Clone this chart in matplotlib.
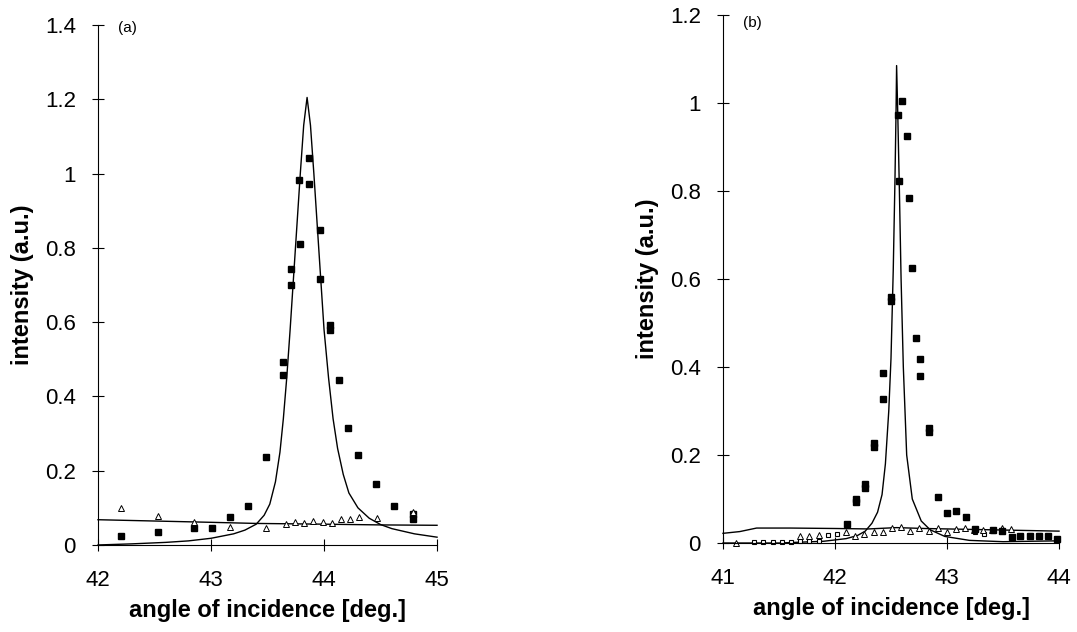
import matplotlib.pyplot as plt

plt.rcParams['font.family'] = ['Liberation Sans', 'DejaVu Sans']

# ---- panel (a) data ----
a_sq_x = [42.20, 42.53, 42.85, 43.01, 43.17, 43.33, 43.49, 43.64, 43.64, 43.71, 43.71,
          43.79, 43.78, 43.87, 43.87, 43.96, 43.96, 44.05, 44.05, 44.13, 44.21, 44.30,
          44.46, 44.62, 44.79, 44.79]
a_sq_y = [0.024, 0.034, 0.045, 0.047, 0.074, 0.106, 0.238, 0.492, 0.458, 0.742, 0.700,
          0.810, 0.982, 1.043, 0.973, 0.847, 0.716, 0.592, 0.580, 0.445, 0.315, 0.242,
          0.163, 0.104, 0.083, 0.070]
a_tri_x = [42.20, 42.53, 42.85, 43.17, 43.49, 43.66, 43.74, 43.82, 43.90, 43.99, 44.07,
           44.15, 44.23, 44.31, 44.47, 44.79]
a_tri_y = [0.100, 0.079, 0.061, 0.048, 0.047, 0.056, 0.061, 0.060, 0.065, 0.063, 0.059,
           0.070, 0.070, 0.074, 0.072, 0.088]
a_fit_x = [42.0, 42.3, 42.6, 42.8, 43.0, 43.2, 43.3, 43.4, 43.47, 43.52, 43.57, 43.61,
           43.64, 43.67, 43.70, 43.73, 43.76, 43.79, 43.82, 43.85, 43.88, 43.91, 43.94,
           43.97, 44.00, 44.04, 44.08, 44.12, 44.17, 44.22, 44.30, 44.40, 44.50, 44.60,
           44.80, 45.0]
a_fit_y = [0.0, 0.003, 0.007, 0.011, 0.018, 0.030, 0.040, 0.056, 0.080, 0.110, 0.170,
           0.250, 0.340, 0.450, 0.580, 0.720, 0.860, 1.000, 1.130, 1.205, 1.130, 1.000,
           0.860, 0.720, 0.580, 0.450, 0.340, 0.260, 0.190, 0.140, 0.100, 0.072, 0.055,
           0.044, 0.030, 0.021]
a_base_x = [42.0, 43.0, 43.4, 44.0, 44.5, 45.0]
a_base_y = [0.068, 0.061, 0.058, 0.056, 0.054, 0.053]

# ---- panel (b) data ----
b_sq_x = [42.11, 42.19, 42.19, 42.27, 42.27, 42.35, 42.35, 42.43, 42.43, 42.50, 42.50,
          42.56, 42.60, 42.57, 42.64, 42.66, 42.69, 42.72, 42.76, 42.76, 42.84, 42.84,
          42.92, 43.00, 43.08, 43.17, 43.25, 43.41, 43.49, 43.58, 43.65, 43.74, 43.82,
          43.90, 43.98]
b_sq_y = [0.043, 0.100, 0.094, 0.135, 0.125, 0.228, 0.218, 0.387, 0.327, 0.558, 0.550,
          0.973, 1.004, 0.822, 0.924, 0.783, 0.625, 0.466, 0.419, 0.379, 0.262, 0.252,
          0.105, 0.069, 0.072, 0.059, 0.031, 0.029, 0.027, 0.013, 0.016, 0.016, 0.016,
          0.016, 0.009]
b_osq_x = [41.28, 41.36, 41.45, 41.53, 41.61, 41.69, 41.77, 41.86, 41.94, 42.02, 43.25,
           43.33, 43.41, 43.49, 43.66, 43.74, 43.82, 43.90]
b_osq_y = [0.003, 0.003, 0.003, 0.003, 0.003, 0.004, 0.004, 0.004, 0.019, 0.021, 0.026,
           0.021, 0.028, 0.030, 0.017, 0.019, 0.019, 0.017]
b_tri_x = [41.12, 41.69, 41.77, 41.86, 42.10, 42.18, 42.26, 42.35, 42.43, 42.51, 42.59,
           42.67, 42.75, 42.84, 42.92, 43.00, 43.08, 43.16, 43.24, 43.32, 43.40, 43.49,
           43.57]
b_tri_y = [0.000, 0.015, 0.016, 0.018, 0.025, 0.015, 0.021, 0.025, 0.025, 0.034, 0.037,
           0.028, 0.034, 0.028, 0.034, 0.026, 0.032, 0.034, 0.030, 0.030, 0.030, 0.034,
           0.032]
b_fit_x = [41.0, 41.5, 41.9, 42.1, 42.2, 42.27, 42.33, 42.38, 42.42, 42.45, 42.48, 42.50,
           42.52, 42.535, 42.545, 42.55, 42.56, 42.575, 42.59, 42.61, 42.64, 42.69, 42.77,
           42.85, 42.98, 43.2, 43.5, 44.0]
b_fit_y = [0.0, 0.0, 0.004, 0.010, 0.017, 0.027, 0.045, 0.070, 0.110, 0.180, 0.300, 0.420,
           0.620, 0.820, 0.980, 1.085, 0.980, 0.800, 0.600, 0.400, 0.200, 0.100, 0.050,
           0.030, 0.015, 0.006, 0.003, 0.005]
b_base_x = [41.0, 41.15, 41.3, 41.6, 42.0, 42.3, 42.55, 42.8, 43.2, 43.6, 44.0]
b_base_y = [0.022, 0.026, 0.034, 0.034, 0.033, 0.032, 0.035, 0.033, 0.031, 0.029, 0.027]

a_yticks = [0, 0.2, 0.4, 0.6, 0.8, 1, 1.2, 1.4]
a_ylabels = ['0', '0.2', '0.4', '0.6', '0.8', '1', '1.2', '1.4']
b_yticks = [0, 0.2, 0.4, 0.6, 0.8, 1, 1.2]
b_ylabels = ['0', '0.2', '0.4', '0.6', '0.8', '1', '1.2']

fig = plt.figure(figsize=(10.77, 6.32), dpi=100)
ax1 = fig.add_axes([0.091, 0.1377, 0.3148, 0.8227])
ax2 = fig.add_axes([0.6713, 0.1408, 0.312, 0.8355])


def style(ax, xlim, ylim, xticks, yticks, ylabels, tag, tag_y):
    ax.set_xlim(*xlim)
    ax.set_ylim(*ylim)
    for s in ['top', 'right']:
        ax.spines[s].set_visible(False)
    ax.spines['left'].set_linewidth(0.8)
    ax.spines['bottom'].set_linewidth(0.8)
    ax.set_xticks(xticks)
    ax.set_yticks(yticks)
    ax.set_yticklabels(ylabels)
    ax.tick_params(direction='inout', length=8, width=0.8, labelsize=16)
    ax.tick_params(axis='y', pad=12)
    ax.tick_params(axis='x', pad=14)
    ax.set_xlabel('angle of incidence [deg.]', fontsize=17, fontweight='bold', labelpad=6)
    ax.set_ylabel('intensity (a.u.)', fontsize=17, fontweight='bold', labelpad=8)
    ax.text(0.06, tag_y, tag, transform=ax.transAxes, fontsize=11, va='center')


# panel (a)
ax1.plot(a_fit_x, a_fit_y, color='black', lw=1.0, clip_on=False)
ax1.plot(a_base_x, a_base_y, color='black', lw=1.0, clip_on=False)
ax1.plot(a_sq_x, a_sq_y, 's', color='black', ms=4, clip_on=False)
ax1.plot(a_tri_x, a_tri_y, '^', mfc='white', mec='black', mew=0.7, ms=4.5, clip_on=False)
style(ax1, (42, 45), (0, 1.4), [42, 43, 44, 45], a_yticks, a_ylabels, '(a)', 0.995)

# panel (b)
ax2.plot(b_fit_x, b_fit_y, color='black', lw=1.0, clip_on=False)
ax2.plot(b_base_x, b_base_y, color='black', lw=1.0, clip_on=False)
ax2.plot(b_osq_x, b_osq_y, 's', mfc='white', mec='black', mew=0.8, ms=3.5, clip_on=False)
ax2.plot(b_tri_x, b_tri_y, '^', mfc='white', mec='black', mew=0.7, ms=4, clip_on=False)
ax2.plot(b_sq_x, b_sq_y, 's', color='black', ms=3.8, clip_on=False)
style(ax2, (41, 44), (0, 1.2), [41, 42, 43, 44], b_yticks, b_ylabels, '(b)', 0.985)

fig.savefig('out.png', dpi=100)
